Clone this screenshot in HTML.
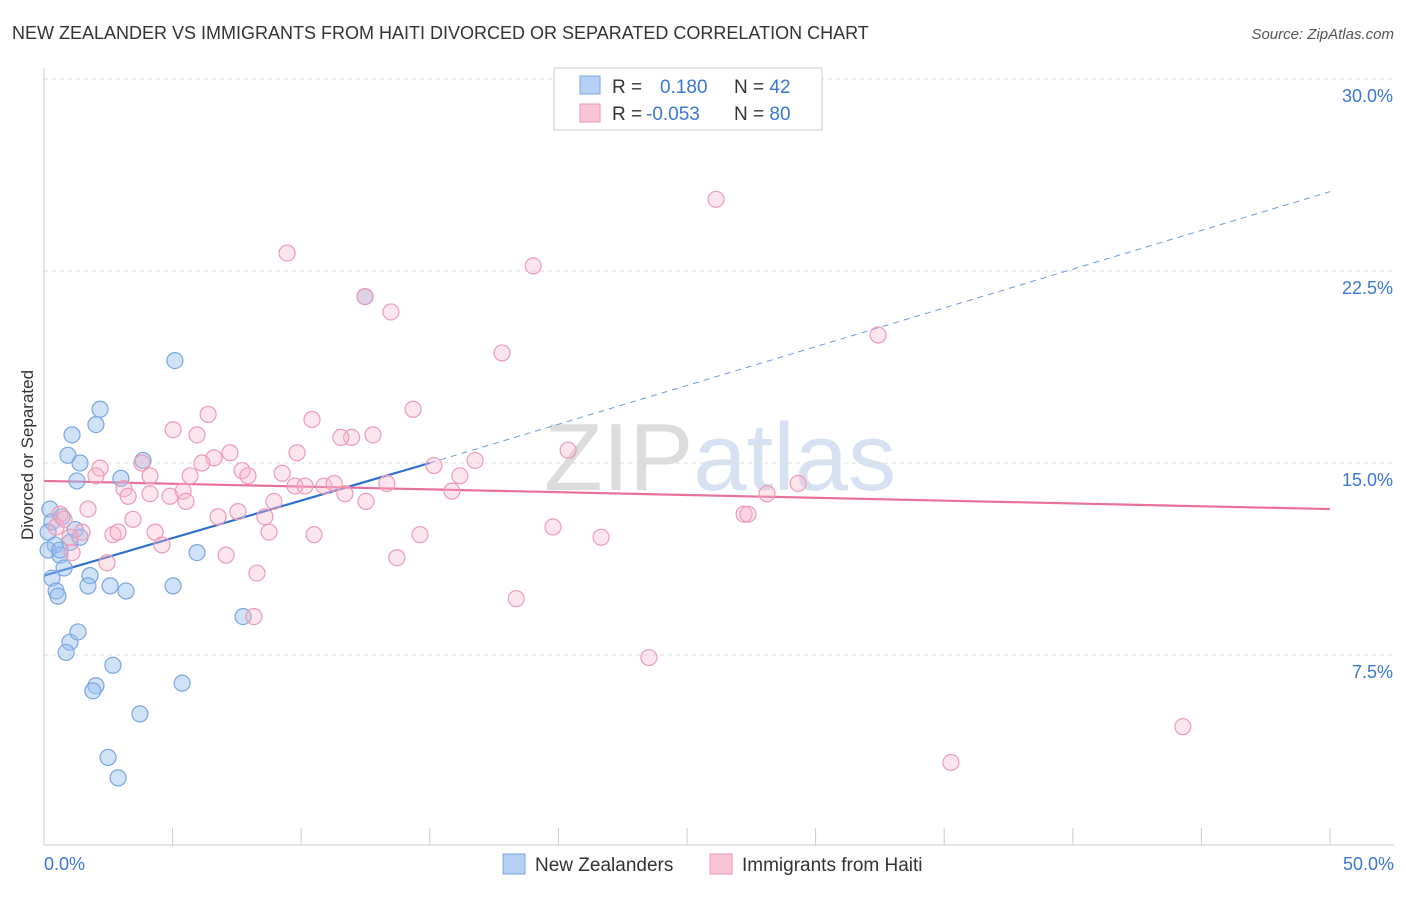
<!DOCTYPE html>
<html><head><meta charset="utf-8"><style>
body{margin:0;background:#fff;font-family:"Liberation Sans",sans-serif}
svg text{font-family:"Liberation Sans",sans-serif}
</style></head><body>
<svg id="c" width="1406" height="892" xmlns="http://www.w3.org/2000/svg">
<text x="12" y="39" font-size="18" fill="#333">NEW ZEALANDER VS IMMIGRANTS FROM HAITI DIVORCED OR SEPARATED CORRELATION CHART</text>
<text x="1394" y="39" font-size="15" fill="#555" text-anchor="end" font-style="italic">Source: ZipAtlas.com</text>
<text x="720" y="490" font-size="96" text-anchor="middle" fill="#e4e4e4" font-family="Liberation Serif"><tspan fill="#dcdcdc">ZIP</tspan><tspan fill="#d6e2f2" font-family="Liberation Sans">atlas</tspan></text>
<g id="grid"></g><g id="axes"></g><g id="lines"></g><g id="pts"></g>
<text transform="translate(33,455) rotate(-90)" font-size="17" fill="#333" text-anchor="middle">Divorced or Separated</text>
<g>
<rect x="554" y="68" width="268" height="62" fill="#fff" stroke="#ccc"/>
<rect x="580" y="76" width="20" height="18" fill="#b5d0f4" stroke="#7aa6e0"/>
<rect x="580" y="104" width="20" height="18" fill="#f9c5d5" stroke="#ea9ab3"/>
<text x="612" y="93" font-size="19" fill="#333">R = <tspan fill="#3a78d4" x="660">0.180</tspan><tspan x="734" fill="#333">N = </tspan><tspan fill="#3a78d4">42</tspan></text>
<text x="612" y="120" font-size="19" fill="#333">R = <tspan fill="#3a78d4" x="646">-0.053</tspan><tspan x="734" fill="#333">N = </tspan><tspan fill="#3a78d4">80</tspan></text>
</g>
<g>
<rect x="503" y="854" width="22" height="20" fill="#b5d0f4" stroke="#7aa6e0"/>
<text x="535" y="871" font-size="19" fill="#333">New Zealanders</text>
<rect x="710" y="854" width="22" height="20" fill="#f9c5d5" stroke="#ea9ab3"/>
<text x="742" y="871" font-size="19" fill="#333">Immigrants from Haiti</text>
</g>
</svg>
<script>
const xTicks=[0,5,10,15,20,25,30,35,40,45,50];
const yTicks=[7.5,15,22.5,30];
const yTickLabels=["7.5%","15.0%","22.5%","30.0%"];
const blueX=[0.23,0.31,0.43,0.16,0.62,0.7,0.31,0.47,0.54,0.78,1.01,1.21,1.4,1.01,0.86,1.32,1.09,0.93,1.4,1.28,2.18,2.02,1.79,1.71,2.57,3.19,2.68,2.02,1.9,3.73,2.49,2.88,3.85,2.99,5.09,5.95,5.02,5.37,7.74,12.48,0.62,0.16];
const blueY=[13.2,12.7,11.8,11.6,11.4,12.9,10.5,10.0,9.8,10.9,11.9,12.4,12.1,8.0,7.6,8.4,16.1,15.3,15.0,14.3,17.1,16.5,10.6,10.2,10.2,10.0,7.1,6.3,6.1,5.2,3.5,2.7,15.1,14.4,19.0,11.5,10.2,6.4,9.0,21.5,11.6,12.3];
const pinkX=[26.13,9.45,19.02,12.48,13.49,17.81,32.43,6.38,14.35,10.42,5.02,5.95,11.96,12.79,11.54,7.23,9.84,20.38,6.61,6.14,3.81,2.18,15.16,16.76,4.12,5.68,7.70,7.93,9.26,16.17,2.02,3.11,4.12,5.41,3.27,4.90,5.52,9.76,10.15,10.89,11.28,11.70,13.33,15.86,12.52,8.94,7.54,8.59,1.71,6.77,3.46,0.62,0.47,1.48,1.01,2.68,2.88,4.32,4.59,8.75,10.50,14.62,19.79,21.66,27.22,27.37,28.11,29.32,1.09,2.45,7.08,8.28,13.72,18.36,8.16,23.52,44.28,35.26,0.78];
const pinkY=[25.3,23.2,22.7,21.5,20.9,19.3,20.0,16.9,17.1,16.7,16.3,16.1,16.0,16.1,16.0,15.4,15.4,15.5,15.2,15.0,15.0,14.8,14.9,15.1,14.5,14.5,14.7,14.5,14.6,14.5,14.5,14.0,13.8,13.9,13.7,13.7,13.5,14.1,14.1,14.1,14.2,13.8,14.2,13.9,13.5,13.5,13.1,12.9,13.2,12.9,12.8,13.0,12.5,12.3,12.1,12.2,12.3,12.3,11.8,12.3,12.2,12.2,12.5,12.1,13.0,13.0,13.8,14.2,11.5,11.1,11.4,10.7,11.3,9.7,9.0,7.4,4.7,3.3,12.8];
const blueFit=[10.6,15.0];const blueFitX=[0,15];const blueDashEnd=[50,25.6];
const pinkFit=[14.3,13.2];
const X=v=>44+v*25.72, Y=v=>847-v*25.6;
const NS="http://www.w3.org/2000/svg";
function mk(p,tag,a){const e=document.createElementNS(NS,tag);for(const k in a)e.setAttribute(k,a[k]);document.getElementById(p).appendChild(e);return e;}
yTicks.forEach((t,i)=>{
 const l=mk('grid','line',{x1:44,x2:1394,y1:Y(t),y2:Y(t),stroke:'#ddd','stroke-dasharray':'4,4'});
 
 
 const tx=mk('grid','text',{x:1393,y:Y(t)+23,'font-size':18,fill:'#3a78d4','text-anchor':'end'});tx.textContent=yTickLabels[i];
 
 
});
const tg=mk('grid','line',{x1:44,x2:1394,y1:79,y2:79,stroke:'#ddd','stroke-dasharray':'4,4'});
const ax=mk('axes','line',{x1:44,x2:1394,y1:845,y2:845,stroke:'#ccc'});


const ay=mk('axes','line',{x1:44,x2:44,y1:68,y2:845,stroke:'#ccc'});


xTicks.forEach(t=>{const l=mk('axes','line',{x1:X(t),x2:X(t),y1:828,y2:845,stroke:'#ccc'});
 
 });
let t0=mk('axes','text',{x:44,y:870,'font-size':18,fill:'#3a78d4'});t0.textContent='0.0%';


let t1=mk('axes','text',{x:1394,y:870,'font-size':18,fill:'#3a78d4','text-anchor':'end'});t1.textContent='50.0%';


blueX.forEach((v,i)=>{const c=mk('pts','circle',{cx:X(v),cy:Y(blueY[i]),r:8,fill:'rgba(150,190,240,0.45)',stroke:'#7aa6e0','stroke-width':1.2});
 
 });
pinkX.forEach((v,i)=>{const c=mk('pts','circle',{cx:X(v),cy:Y(pinkY[i]),r:8,fill:'rgba(248,180,200,0.35)',stroke:'#ee9bb5','stroke-width':1.2});
 
 });
const bl=mk('lines','line',{x1:X(blueFitX[0]),y1:Y(blueFit[0]),x2:X(blueFitX[1]),y2:Y(blueFit[1]),stroke:'#2f6fd0','stroke-width':2.2});


const bd=mk('lines','line',{x1:X(blueFitX[1]),y1:Y(blueFit[1]),x2:X(blueDashEnd[0]),y2:Y(blueDashEnd[1]),stroke:'#6b9ade','stroke-width':1,'stroke-dasharray':'6,5'});


const pl=mk('lines','line',{x1:X(0),y1:Y(pinkFit[0]),x2:X(50),y2:Y(pinkFit[1]),stroke:'#e8709a','stroke-width':2.2});


</script>
</body></html>
